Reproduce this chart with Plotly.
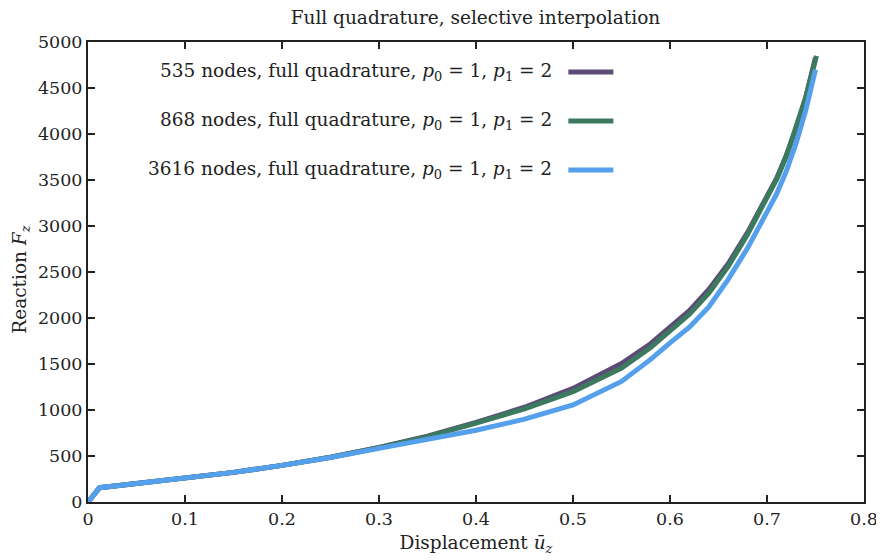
import plotly.graph_objects as go

# ---- data ----
x_535 = [0, 0.012, 0.05, 0.1, 0.15, 0.2, 0.25, 0.3, 0.35, 0.4, 0.45, 0.5, 0.55, 0.58, 0.6, 0.62, 0.64, 0.66, 0.68, 0.7, 0.71, 0.72, 0.73, 0.74, 0.75]
y_535 = [0, 155, 200, 258, 322, 398, 487, 592, 715, 865, 1030, 1235, 1505, 1720, 1900, 2080, 2310, 2590, 2930, 3310, 3520, 3770, 4060, 4400, 4830]

x_868 = [0, 0.012, 0.05, 0.1, 0.15, 0.2, 0.25, 0.3, 0.35, 0.4, 0.45, 0.5, 0.55, 0.58, 0.6, 0.62, 0.64, 0.66, 0.68, 0.7, 0.71, 0.72, 0.73, 0.74, 0.751]
y_868 = [0, 155, 200, 258, 322, 398, 487, 590, 710, 858, 1012, 1200, 1455, 1680, 1860, 2040, 2270, 2560, 2910, 3300, 3510, 3760, 4060, 4400, 4850]

x_3616 = [0, 0.012, 0.05, 0.1, 0.15, 0.2, 0.25, 0.3, 0.35, 0.4, 0.45, 0.5, 0.55, 0.58, 0.6, 0.62, 0.64, 0.66, 0.68, 0.7, 0.71, 0.72, 0.73, 0.74, 0.75]
y_3616 = [0, 155, 200, 258, 322, 398, 483, 583, 675, 780, 900, 1055, 1310, 1550, 1730, 1900, 2120, 2420, 2760, 3140, 3350, 3600, 3900, 4260, 4700]

series_names = [
    "535 nodes, full quadrature, <i>p</i><sub>0</sub> = 1, <i>p</i><sub>1</sub> = 2",
    "868 nodes, full quadrature, <i>p</i><sub>0</sub> = 1, <i>p</i><sub>1</sub> = 2",
    "3616 nodes, full quadrature, <i>p</i><sub>0</sub> = 1, <i>p</i><sub>1</sub> = 2",
]
colors = ["#5d4a76", "#3b7a5e", "#55a0ec"]

x_ticks = [0, 0.1, 0.2, 0.3, 0.4, 0.5, 0.6, 0.7, 0.8]
x_tick_labels = ["0", "0.1", "0.2", "0.3", "0.4", "0.5", "0.6", "0.7", "0.8"]
y_ticks = [0, 500, 1000, 1500, 2000, 2500, 3000, 3500, 4000, 4500, 5000]
y_tick_labels = [str(v) for v in y_ticks]

FONT = "DejaVu Serif"
FS = 18.5
FS_TICK = 17.5
TXT = "#222"

fig = go.Figure()
for xs, ys, name, c in zip([x_535, x_868, x_3616], [y_535, y_868, y_3616], series_names, colors):
    fig.add_trace(go.Scatter(x=xs, y=ys, mode="lines", name=name,
                             line=dict(color=c, width=5),
                             showlegend=False))

# legend drawn manually (text right-aligned, sample line on the right)
legend_y = [0.935, 0.828, 0.722]
for name, c, ly in zip(series_names, colors, legend_y):
    fig.add_annotation(x=0.601, y=ly, xref="paper", yref="paper", text=name,
                       showarrow=False, xanchor="right", yanchor="middle",
                       font=dict(family=FONT, size=FS, color=TXT))
    fig.add_shape(type="line", xref="paper", yref="paper", x0=0.619, x1=0.677,
                  y0=ly, y1=ly, line=dict(color=c, width=5))

# y-axis title placed as an annotation to sit close to the page edge
fig.add_annotation(x=-0.0865, y=0.483, xref="paper", yref="paper",
                   text="Reaction <i>F</i><sub><i>z</i></sub>", textangle=-90,
                   showarrow=False, xanchor="center", yanchor="middle",
                   font=dict(family=FONT, size=FS, color=TXT))

axis_common = dict(showgrid=False, zeroline=False, showline=True, linecolor=TXT,
                   linewidth=2, mirror="allticks", ticks="inside", ticklen=7,
                   tickwidth=1.5, tickcolor=TXT, automargin=False,
                   ticklabeloverflow="allow",
                   tickfont=dict(family=FONT, size=FS_TICK, color=TXT))

fig.update_xaxes(range=[0, 0.8], tickvals=x_ticks, ticktext=x_tick_labels,
                 title=dict(text="Displacement <i>ū</i><sub><i>z</i></sub>", standoff=8,
                            font=dict(family=FONT, size=FS, color=TXT)),
                 **axis_common)
fig.update_yaxes(range=[0, 5000], tickvals=y_ticks, ticktext=y_tick_labels,
                 **axis_common)

# the page body has an 8px margin, so the figure is sized/offset to compensate
fig.update_layout(
    width=868, height=552,
    margin=dict(l=80, r=12, t=34, b=58),
    paper_bgcolor="white", plot_bgcolor="white",
    title=dict(text="Full quadrature, selective interpolation", x=0.5385, xanchor="center",
               y=0.982, yanchor="middle", automargin=False,
               font=dict(family=FONT, size=FS, color=TXT)),
)

fig.write_html("out.html")
